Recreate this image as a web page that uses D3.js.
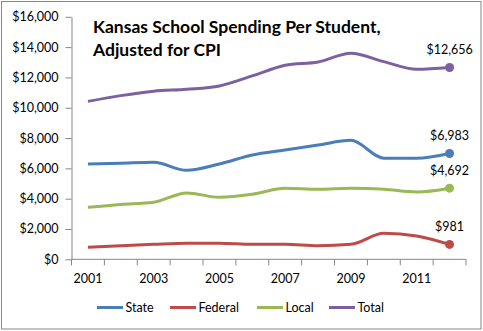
<!DOCTYPE html>
<html>
<head>
<meta charset="utf-8">
<script src="https://cdn.jsdelivr.net/npm/d3@7/dist/d3.min.js"></script>
<style>
  body { margin: 0; background: #fff; }
  svg { display: block; font-family: Lato, "Open Sans", sans-serif; }
</style>
</head>
<body>
<script>
const years = [2001, 2002, 2003, 2004, 2005, 2006, 2007, 2008, 2009, 2010, 2011, 2012];
const state = [6290, 6340, 6400, 5870, 6290, 6880, 7210, 7540, 7850, 6670, 6670, 6983];
const federal = [790, 900, 990, 1060, 1060, 990, 990, 900, 990, 1720, 1540, 981];
const local = [3430, 3620, 3760, 4380, 4090, 4290, 4690, 4620, 4690, 4620, 4440, 4692];
const total = [10420, 10800, 11090, 11220, 11440, 12100, 12800, 13020, 13600, 13040, 12540, 12656];
const endLabels = ['$6,983', '$981', '$4,692', '$12,656'];
const yTicks = [0, 2000, 4000, 6000, 8000, 10000, 12000, 14000, 16000];

const series = [
  { name: 'State', values: state, color: '#4a7ebb' },
  { name: 'Federal', values: federal, color: '#be4b48' },
  { name: 'Local', values: local, color: '#98b954' },
  { name: 'Total', values: total, color: '#7d60a0' }
];

const w = 483, h = 331;
const plotLeft = 71.5, plotRight = 466, plotTop = 16.8, plotBottom = 259.3;

const svg = d3.select('body').append('svg').attr('width', w).attr('height', h);

svg.append('rect').attr('x', 1.5).attr('y', 1.5).attr('width', w - 3.5).attr('height', h - 3.5)
   .attr('fill', '#fff').attr('stroke', '#868686').attr('stroke-width', 1);

const xBand = d3.scaleBand().domain(years).range([plotLeft, plotRight]);
const x = (d) => xBand(d) + xBand.bandwidth() / 2;
const y = d3.scaleLinear().domain([0, 16000]).range([plotBottom, plotTop]);

// y axis
const yAxis = d3.axisLeft(y).tickValues(yTicks).tickSize(6).tickSizeOuter(0)
  .tickFormat((d) => '$' + d3.format(',')(d));
const gy = svg.append('g').attr('transform', 'translate(' + plotLeft + ',0)').call(yAxis);
gy.select('.domain').attr('stroke', '#868686');
gy.selectAll('.tick line').attr('stroke', '#868686');
gy.selectAll('.tick text').attr('x', -13).attr('fill', '#000').style('font-size', '12.5px').style('font-family', 'Lato, sans-serif');

// x axis: ticks on band edges
const edges = d3.scaleLinear().domain([0, years.length]).range([plotLeft, plotRight]);
const gx = svg.append('g').attr('transform', 'translate(0,' + plotBottom + ')');
gx.append('line').attr('x1', plotLeft).attr('x2', plotRight).attr('stroke', '#868686');
gx.selectAll('line.tk').data(d3.range(years.length + 1)).enter().append('line')
  .attr('class', 'tk').attr('x1', (d) => edges(d)).attr('x2', (d) => edges(d))
  .attr('y1', 0).attr('y2', 6).attr('stroke', '#868686');
gx.selectAll('text').data(years.filter((d, i) => i % 2 === 0)).enter().append('text')
  .attr('x', (d) => x(d)).attr('y', 24).attr('text-anchor', 'middle')
  .style('font-size', '12.5px').text((d) => d);

// lines
const line = d3.line().x((d, i) => x(years[i])).y((d) => y(d)).curve(d3.curveMonotoneX);
series.forEach((s, k) => {
  svg.append('path').datum(s.values).attr('d', line)
     .attr('fill', 'none').attr('stroke', s.color).attr('stroke-width', 3).attr('stroke-linejoin', 'round');
  const last = s.values.length - 1;
  svg.append('circle').attr('cx', x(years[last])).attr('cy', y(s.values[last])).attr('r', 4.5).attr('fill', s.color);
  svg.append('text').attr('x', x(years[last])).attr('y', y(s.values[last]) - 13)
     .attr('text-anchor', 'middle').style('font-size', '12.5px').text(endLabels[k]);
});

// title
const title = svg.append('text').attr('x', 93).attr('y', 33)
  .style('font-size', '17.5px').style('font-weight', 'bold');
title.append('tspan').attr('x', 93).text('Kansas School Spending Per Student,');
title.append('tspan').attr('x', 93).attr('dy', 23).text('Adjusted for CPI');

// legend
const legendX = [97, 170, 257, 329];
const lg = svg.append('g').attr('transform', 'translate(0,307.5)');
series.forEach((s, k) => {
  lg.append('line').attr('x1', legendX[k]).attr('x2', legendX[k] + 26).attr('y1', 0).attr('y2', 0)
    .attr('stroke', s.color).attr('stroke-width', 3);
  lg.append('text').attr('x', legendX[k] + 28.5).attr('y', 4.5).style('font-size', '12.5px').text(s.name);
});
</script>
</body>
</html>
